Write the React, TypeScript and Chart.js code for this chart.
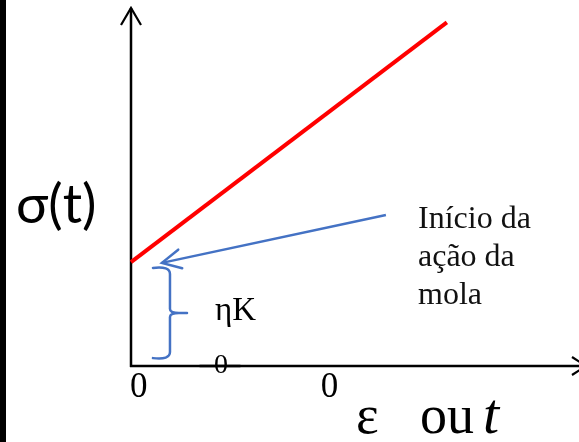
import React, { useEffect, useRef } from "react";
import { Chart, registerables } from "chart.js";

Chart.register(...registerables);

// Data (arbitrary units)
const stressX = [0, 7.05];
const stressY = [2.9, 9.6];
const arrowX = [5.69, 0.69];
const arrowY = [4.22, 2.88];
const braceRange = [0.22, 2.74]; // y extent of the ηK brace
const braceX = [0.49, 0.87, 1.25]; // ends, spine, tip
const xTickLabels = ["0", "0"];
const xTickValues = [0, 4.26];
const yLabel = "σ(t)";
const xLabelParts = ["ε", "ou", "t"];
const noteLines = ["Início da", "ação da", "mola"];
const braceLabel = "ηK";
const braceSub = "0";

const SERIF = '"Liberation Serif", "Times New Roman", serif';

const overlay = {
  id: "overlay",
  beforeDatasetsDraw(chart: any) {
    const ctx = chart.ctx;
    const xs = chart.scales.x;
    const ys = chart.scales.y;
    const x0 = xs.getPixelForValue(0);
    const y0 = ys.getPixelForValue(0);
    ctx.save();
    // left dark strip
    ctx.fillStyle = "#000";
    ctx.fillRect(0, 0, 6, chart.height);
    // axes
    ctx.strokeStyle = "#000";
    ctx.lineWidth = 2.5;
    ctx.lineCap = "butt";
    ctx.beginPath();
    ctx.moveTo(x0, y0 + 1);
    ctx.lineTo(x0, chart.chartArea.top);
    ctx.moveTo(x0 - 1, y0);
    ctx.lineTo(chart.width + 10, y0);
    ctx.stroke();
    // arrowheads
    const top = chart.chartArea.top;
    ctx.lineWidth = 2.2;
    ctx.beginPath();
    ctx.moveTo(x0 - 10, top + 17);
    ctx.lineTo(x0, top);
    ctx.lineTo(x0 + 10, top + 17);
    ctx.moveTo(chart.width - 7, y0 - 9);
    ctx.lineTo(chart.width + 7, y0);
    ctx.lineTo(chart.width - 7, y0 + 9);
    ctx.stroke();
    ctx.restore();
  },
  afterDatasetsDraw(chart: any) {
    const ctx = chart.ctx;
    const xs = chart.scales.x;
    const ys = chart.scales.y;
    const y0 = ys.getPixelForValue(0);
    ctx.save();
    // arrowhead of blue pointer
    const meta = chart.getDatasetMeta(1);
    const p0 = meta.data[0];
    const p1 = meta.data[1];
    const ang = Math.atan2(p0.y - p1.y, p0.x - p1.x);
    const L = 21;
    const w = (27 * Math.PI) / 180;
    ctx.strokeStyle = "#4472C4";
    ctx.lineWidth = 2.5;
    ctx.lineCap = "round";
    ctx.beginPath();
    ctx.moveTo(p1.x + L * Math.cos(ang - w), p1.y + L * Math.sin(ang - w));
    ctx.lineTo(p1.x, p1.y);
    ctx.lineTo(p1.x + L * Math.cos(ang + w), p1.y + L * Math.sin(ang + w));
    ctx.stroke();

    // brace
    const bTop = ys.getPixelForValue(braceRange[1]);
    const bBot = ys.getPixelForValue(braceRange[0]);
    const bMid = (bTop + bBot) / 2;
    const ex = xs.getPixelForValue(braceX[0]);
    const sx = xs.getPixelForValue(braceX[1]);
    const tx = xs.getPixelForValue(braceX[2]);
    ctx.lineCap = "round";
    ctx.lineJoin = "round";
    ctx.beginPath();
    ctx.moveTo(ex, bTop);
    ctx.quadraticCurveTo(sx, bTop - 2, sx, bTop + 6);
    ctx.lineTo(sx, bMid - 4);
    ctx.quadraticCurveTo(sx, bMid, tx - 8, bMid);
    ctx.lineTo(tx, bMid);
    ctx.moveTo(tx - 8, bMid);
    ctx.quadraticCurveTo(sx, bMid, sx, bMid + 4);
    ctx.lineTo(sx, bBot - 6);
    ctx.quadraticCurveTo(sx, bBot + 2, ex, bBot);
    ctx.stroke();

    // texts
    ctx.fillStyle = "#000";
    ctx.textBaseline = "alphabetic";
    ctx.textAlign = "left";
    ctx.font = '54px Lato, "Noto Sans", sans-serif';
    ctx.fillText(yLabel, 16, 223);

    ctx.font = "33px " + SERIF;
    ctx.fillText(braceLabel, 215, 320);
    ctx.font = "28px " + SERIF;
    ctx.fillText(braceSub, 214, 373);

    ctx.font = "35px " + SERIF;
    xTickLabels.forEach((t, i) => {
      ctx.fillText(t, xs.getPixelForValue(xTickValues[i]) - 1, 397);
    });

    ctx.font = "32px " + SERIF;
    ctx.fillStyle = "#111";
    noteLines.forEach((t, i) => {
      ctx.fillText(t, 418, 228 + i * 38);
    });

    ctx.fillStyle = "#000";
    ctx.font = "54px " + SERIF;
    ctx.fillText(xLabelParts[0], 356, 433);
    ctx.fillText(xLabelParts[1], 420, 433);
    ctx.font = "italic 58px " + SERIF;
    ctx.fillText(xLabelParts[2], 483, 433);

    // redraw x-axis line over the subscript (it strikes through it)
    ctx.strokeStyle = "#000";
    ctx.lineWidth = 2.5;
    ctx.beginPath();
    ctx.moveTo(200, y0);
    ctx.lineTo(240, y0);
    ctx.stroke();
    ctx.restore();
  },
};

export default function App() {
  const ref = useRef<HTMLCanvasElement>(null);
  useEffect(() => {
    if (!ref.current) return;
    const chart = new Chart(ref.current, {
      type: "line",
      data: {
        datasets: [
          {
            data: stressX.map((x, i) => ({ x, y: stressY[i] })),
            borderColor: "#FF0000",
            borderWidth: 4,
            pointRadius: 0,
            clip: false as any,
            tension: 0,
          },
          {
            data: arrowX.map((x, i) => ({ x, y: arrowY[i] })),
            borderColor: "#4472C4",
            borderWidth: 2.5,
            pointRadius: 0,
            clip: false as any,
            tension: 0,
          },
        ],
      },
      options: {
        responsive: false,
        animation: false,
        events: [],
        layout: { padding: { left: 131, right: 0, top: 8, bottom: 76 } },
        plugins: { legend: { display: false }, tooltip: { enabled: false } },
        scales: {
          x: { type: "linear", min: 0, max: 10, display: false },
          y: { type: "linear", min: 0, max: 10, display: false },
        },
      },
      plugins: [overlay],
    });
    if ((document as any).fonts && (document as any).fonts.ready) {
      (document as any).fonts.ready.then(() => chart.draw());
    }
    return () => chart.destroy();
  }, []);
  return (
    <div style={{ position: "absolute", left: 0, top: 0, width: 579, height: 442, background: "#fff" }}>
      <canvas ref={ref} width={579} height={442} style={{ display: "block" }} />
    </div>
  );
}
